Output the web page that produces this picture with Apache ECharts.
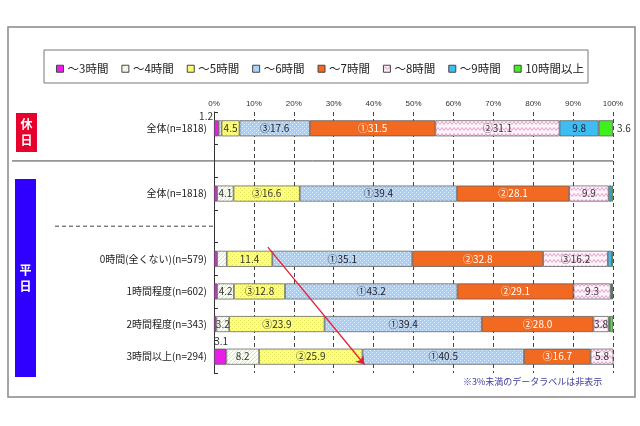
<!DOCTYPE html>
<html>
<head>
<meta charset="utf-8">
<script src="https://cdn.jsdelivr.net/npm/echarts@6/dist/echarts.min.js"></script>
<style>
html, body { margin: 0; padding: 0; background: #fff; }
#chart { width: 640px; height: 426px; }
</style>
</head>
<body>
<div id="chart"></div>
<script>
// 行（空行は区切り用）
var categories = ['全体(n=1818)', '', '全体(n=1818)\u200b', ' ', '0時間(全くない)(n=579)', '1時間程度(n=602)', '2時間程度(n=343)', '3時間以上(n=294)'];
var seriesNames = ['～3時間', '～4時間', '～5時間', '～6時間', '～7時間', '～8時間', '～9時間', '10時間以上'];
var xTicks = [0, 10, 20, 30, 40, 50, 60, 70, 80, 90, 100];

var h3 = [1.2, '-', 0.8, '-', 0.8, 0.8, 0.6, 3.1];
var h4 = [0.7, '-', 4.1, '-', 2.4, 4.2, 3.2, 8.2];
var h5 = [4.5, '-', 16.6, '-', 11.4, 12.8, 23.9, 25.9];
var h6 = [17.6, '-', 39.4, '-', 35.1, 43.2, 39.4, 40.5];
var h7 = [31.5, '-', 28.1, '-', 32.8, 29.1, 28.0, 16.7];
var h8 = [31.1, '-', 9.9, '-', 16.2, 9.3, 3.8, 5.8];
var h9 = [9.8, '-', 0.7, '-', 1.0, 0.3, 0.3, 0];
var h10 = [3.6, '-', 0.4, '-', 0.3, 0.3, 0.8, 0];

var allValues = [h3, h4, h5, h6, h7, h8, h9, h10];
var marks = ['①', '②', '③'];

// 模様
function makePattern(w, h, bg, draw) {
	var c = document.createElement('canvas');
	c.width = w;
	c.height = h;
	var ctx = c.getContext('2d');
	ctx.fillStyle = bg;
	ctx.fillRect(0, 0, w, h);
	draw(ctx);
	return { image: c, repeat: 'repeat' };
}
function dots(bg, fg) {
	return makePattern(4, 4, bg, function(ctx) {
		ctx.fillStyle = fg;
		ctx.fillRect(0, 0, 1, 1);
		ctx.fillRect(2, 2, 1, 1);
	});
}
var pat4 = makePattern(4, 4, '#fbfff4', function(ctx) {
	ctx.fillStyle = '#d2e6bc';
	for (var i = 0; i < 4; i++) ctx.fillRect(i, 3 - i, 1, 1);
});
var pat8 = makePattern(8, 6, '#fff4fa', function(ctx) {
	ctx.strokeStyle = '#e4a0d2';
	ctx.lineWidth = 1;
	ctx.beginPath();
	ctx.moveTo(0, 4.5);
	ctx.lineTo(2, 1.5);
	ctx.lineTo(4, 4.5);
	ctx.lineTo(6, 1.5);
	ctx.lineTo(8, 4.5);
	ctx.stroke();
});
var myColor = ['#e81ee8', pat4, dots('#ffff78', '#e2e262'), dots('#a9cff5', '#e4f1ff'), '#f26a22', pat8, '#3ebdf2', '#3ef01e'];
var labelColor = ['#333', '#333', '#333', '#223', '#fff', '#333', '#223', '#333'];

// 3%未満の外側ラベル
var outsideLabels = [
	{ s: 0, row: 0, label: { show: true, position: 'left', distance: 3, offset: [2, -12] } },
	{ s: 7, row: 0, label: { show: true, position: 'right', distance: 4 } },
	{ s: 0, row: 7, label: { show: true, position: 'top', distance: 2, offset: [1, 0] } }
];

// 各行の順位（上位3つ）
var ranks = categories.map(function(c, row) {
	var vals = allValues.map(function(arr, s) { return { s: s, v: arr[row] }; })
		.filter(function(o) { return o.v !== '-'; });
	vals.sort(function(a, b) { return b.v - a.v; });
	var r = {};
	vals.slice(0, 3).forEach(function(o, i) { r[o.s] = i + 1; });
	return r;
});

var series = allValues.map(function(arr, s) {
	return {
		name: seriesNames[s],
		type: 'bar',
		stack: 'total',
		barWidth: 16,
		itemStyle: {
			color: myColor[s],
			borderColor: '#555',
			borderWidth: 0.7
		},
		label: {
			show: true,
			position: 'inside',
			fontSize: 10,
			color: labelColor[s],
			fontFamily: 'Noto Sans CJK JP',
			formatter: function(p) {
				var v = p.value;
				if (v === '-' || v == null) return '';
				var out = outsideLabels.some(function(o) { return o.s === s && o.row === p.dataIndex; });
				if (v < 3 && !out) return '';
				var r = ranks[p.dataIndex][s];
				return (r ? marks[r - 1] : '') + v.toFixed(1);
			}
		},
		data: arr.map(function(v, row) {
			var o = outsideLabels.filter(function(x) { return x.s === s && x.row === row; })[0];
			if (o) {
				return { value: v, label: Object.assign({ color: '#333' }, o.label) };
			}
			return v;
		})
	};
});

var chart = echarts.init(document.getElementById('chart'));
var option = {
	animation: false,
	textStyle: { fontFamily: 'Noto Sans CJK JP' },
	legend: {
		data: seriesNames,
		icon: 'rect',
		left: 51,
		top: 58,
		itemWidth: 7,
		itemHeight: 7,
		itemGap: 13,
		itemStyle: { borderColor: '#444', borderWidth: 1 },
		textStyle: { fontSize: 11.5, color: '#222', padding: [0, 0, 0, -1] }
	},
	grid: {
		left: 214,
		right: 27,
		top: 112,
		bottom: 53
	},
	xAxis: {
		type: 'value',
		position: 'top',
		min: 0,
		max: 100,
		interval: 10,
		axisLine: { show: false },
		axisTick: { show: false },
		axisLabel: {
			fontSize: 8,
			color: '#333',
			margin: 4,
			fontFamily: 'Liberation Sans',
			formatter: function(v) { return xTicks.indexOf(v) >= 0 ? v + '%' : ''; }
		},
		splitLine: {
			show: true,
			lineStyle: { color: '#444', type: [4, 3], width: 1 }
		}
	},
	yAxis: {
		type: 'category',
		inverse: true,
		data: categories,
		axisLine: { show: true, lineStyle: { color: '#333', width: 1 } },
		axisTick: { show: true, inside: true, length: 4, lineStyle: { color: '#333' } },
		axisLabel: { fontSize: 10, color: '#222', margin: 7 }
	},
	series: series
};
chart.setOption(option);

// 区切り線・矢印などの位置を軸から求める
var yOf = function(i) { return chart.convertToPixel({ yAxisIndex: 0 }, i); };
var xOf = function(v) { return chart.convertToPixel({ xAxisIndex: 0 }, v); };
var step = yOf(1) - yOf(0);

chart.setOption({
	series: [{
		id: 'arrow',
		type: 'line',
		data: [],
		silent: true,
		markLine: {
			silent: true,
			symbol: ['none', 'arrow'],
			symbolSize: 8,
			label: { show: false },
			lineStyle: { color: '#e3203a', width: 1.3, type: 'solid' },
			data: [[
				{ x: xOf(13.5), y: yOf(4) - 0.36 * step },
				{ x: xOf(37.7), y: yOf(7) + 0.24 * step }
			]]
		}
	}],
	graphic: [
		{ type: 'rect', shape: { x: 8, y: 27, width: 627, height: 370 }, style: { fill: 'none', stroke: '#888', lineWidth: 1.5 }, z: -1 },
		{ type: 'rect', shape: { x: 44, y: 50, width: 544, height: 33 }, style: { fill: 'none', stroke: '#777', lineWidth: 1 } },
		{ type: 'rect', shape: { x: 16, y: 113, width: 21, height: 39 }, style: { fill: '#e8002c' } },
		{ type: 'text', x: 26.5, y: 132.5, style: { text: '休\n日', fill: '#fff', fontSize: 12, fontWeight: 'bold', align: 'center', verticalAlign: 'middle', lineHeight: 16, fontFamily: 'Noto Sans CJK JP' } },
		{ type: 'rect', shape: { x: 15, y: 179, width: 21, height: 198 }, style: { fill: '#2f00ff' } },
		{ type: 'text', x: 25.5, y: 278, style: { text: '平\n日', fill: '#fff', fontSize: 12, fontWeight: 'bold', align: 'center', verticalAlign: 'middle', lineHeight: 16, fontFamily: 'Noto Sans CJK JP' } },
		{ type: 'line', shape: { x1: 12, y1: yOf(1), x2: xOf(100), y2: yOf(1) }, style: { stroke: '#444', lineWidth: 1 } },
		{ type: 'line', shape: { x1: 55, y1: yOf(3), x2: xOf(0) - 1, y2: yOf(3) }, style: { stroke: '#444', lineWidth: 1, lineDash: [4, 3] } },
		{ type: 'text', x: 463, y: 382, style: { text: '※3%未満のデータラベルは非表示', fill: '#3a3a9a', fontSize: 9, verticalAlign: 'middle', fontFamily: 'Noto Sans CJK JP' } }
	]
});
</script>
</body>
</html>
